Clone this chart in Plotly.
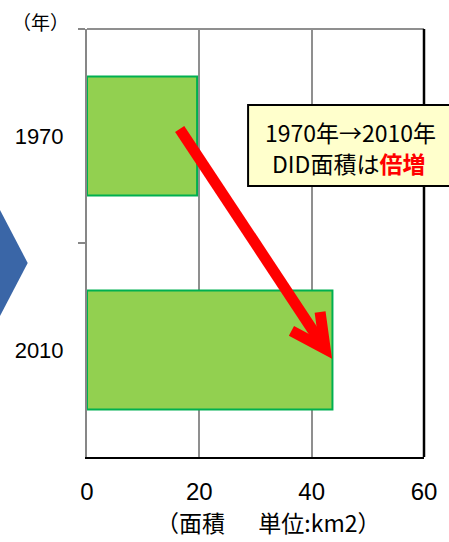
import plotly.graph_objects as go

# ---- data ----
years = ["1970", "2010"]
areas = [19.6, 43.7]
x_ticks = [0, 20, 40, 60]
x_title = "（面積　  単位:km2）"
y_title = "（年）"
note_line1 = "1970年→2010年"
note_line2 = "DID面積は<span style='color:#FF0000'><b>倍増</b></span>"

# ---- layout geometry (screenshot pixels) ----
W, H = 449, 542
PL, PR, PT, PB = 87, 428, 29, 457          # plot area
L, T = PL, PT
PW, PH = PR - PL, PB - PT
R = W - L - PW
B = H - T - PH

def px(p):   # pixel x -> paper x
    return (p - PL) / PW

def py(p):   # pixel y -> paper y
    return (PB - p) / PH

fig = go.Figure()
fig.add_trace(go.Bar(
    x=areas, y=years, orientation="h", width=0.556,
    marker=dict(color="#92D050", line=dict(color="#00B050", width=2)),
    hoverinfo="skip",
))

fig.update_layout(
    width=W, height=H,
    margin=dict(l=L, r=R, t=T, b=B, pad=0),
    paper_bgcolor="white", plot_bgcolor="white",
    showlegend=False,
    font=dict(family="Liberation Sans, Arial, sans-serif", color="black"),
    xaxis=dict(
        range=[0, 60], tickvals=x_ticks, ticktext=[str(v) for v in x_ticks],
        showgrid=True, gridcolor="#8f8f8f", gridwidth=1.5,
        showline=True, linecolor="black", linewidth=2,
        zeroline=False, ticks="", tickfont=dict(size=24),
        ticklabelstandoff=12, fixedrange=True,
    ),
    yaxis=dict(
        type="category", categoryorder="array", categoryarray=years,
        range=[1.5, -0.5], tickson="boundaries",
        showline=True, linecolor="#878787", linewidth=2,
        ticks="outside", ticklen=7, tickwidth=2, tickcolor="#878787",
        showgrid=False, zeroline=False, tickfont=dict(size=22),
        ticklabelstandoff=17, fixedrange=True,
    ),
)

# top (gray) and right (black) borders
fig.add_shape(type="line", xref="paper", yref="paper", x0=0, x1=1, y0=1, y1=1,
              line=dict(color="#8f8f8f", width=2))
fig.add_shape(type="line", xref="paper", yref="paper", x0=1, x1=1, y0=0, y1=1,
              line=dict(color="black", width=2.5))

# blue chevron on the left
fig.add_shape(type="path", xref="paper", yref="paper",
              path=f"M {px(-20)} {py(174)} L {px(27)} {py(263)} L {px(-20)} {py(352)} Z",
              fillcolor="#3A66A7", line=dict(width=0))

# red arrow (in data coordinates)
fig.add_shape(type="path", xref="x", yref="y",
              path="M 16.5 -0.033 L 42.4 0.995",
              line=dict(color="#FF0000", width=11))
fig.add_shape(type="path", xref="x", yref="y",
              path="M 41.5 0.822 L 42.4 0.995 L 36.4 0.911",
              line=dict(color="#FF0000", width=11))

# note box
fig.add_shape(type="rect", xref="paper", yref="paper",
              x0=px(250), x1=px(475), y0=py(186), y1=py(105),
              fillcolor="#FFFFCC", line=dict(color="black", width=2), layer="above")
fig.add_annotation(xref="paper", yref="paper", x=px(265), y=py(131.5),
                   text=note_line1, showarrow=False, xanchor="left", yanchor="middle",
                   font=dict(family="Noto Sans CJK JP", size=23, color="black"))
fig.add_annotation(xref="paper", yref="paper", x=px(272), y=py(162.5),
                   text=note_line2, showarrow=False, xanchor="left", yanchor="middle",
                   font=dict(family="Noto Sans CJK JP", size=23, color="black"))

# axis titles
fig.add_annotation(xref="paper", yref="paper", x=px(270), y=py(522),
                   text=x_title, showarrow=False, xanchor="center", yanchor="middle",
                   font=dict(family="Noto Sans CJK JP", size=23, color="black"))
fig.add_annotation(xref="paper", yref="paper", x=px(40), y=py(21),
                   text=y_title, showarrow=False, xanchor="center", yanchor="middle",
                   font=dict(family="Noto Sans CJK JP", size=19, color="black"))

fig.write_html(
    "out.html",
    config={"displayModeBar": False},
    post_script="document.body.style.margin='0';"
                "var d=document.getElementById('{plot_id}');"
                "d.style.position='absolute';d.style.left='0px';d.style.top='0px';",
)
